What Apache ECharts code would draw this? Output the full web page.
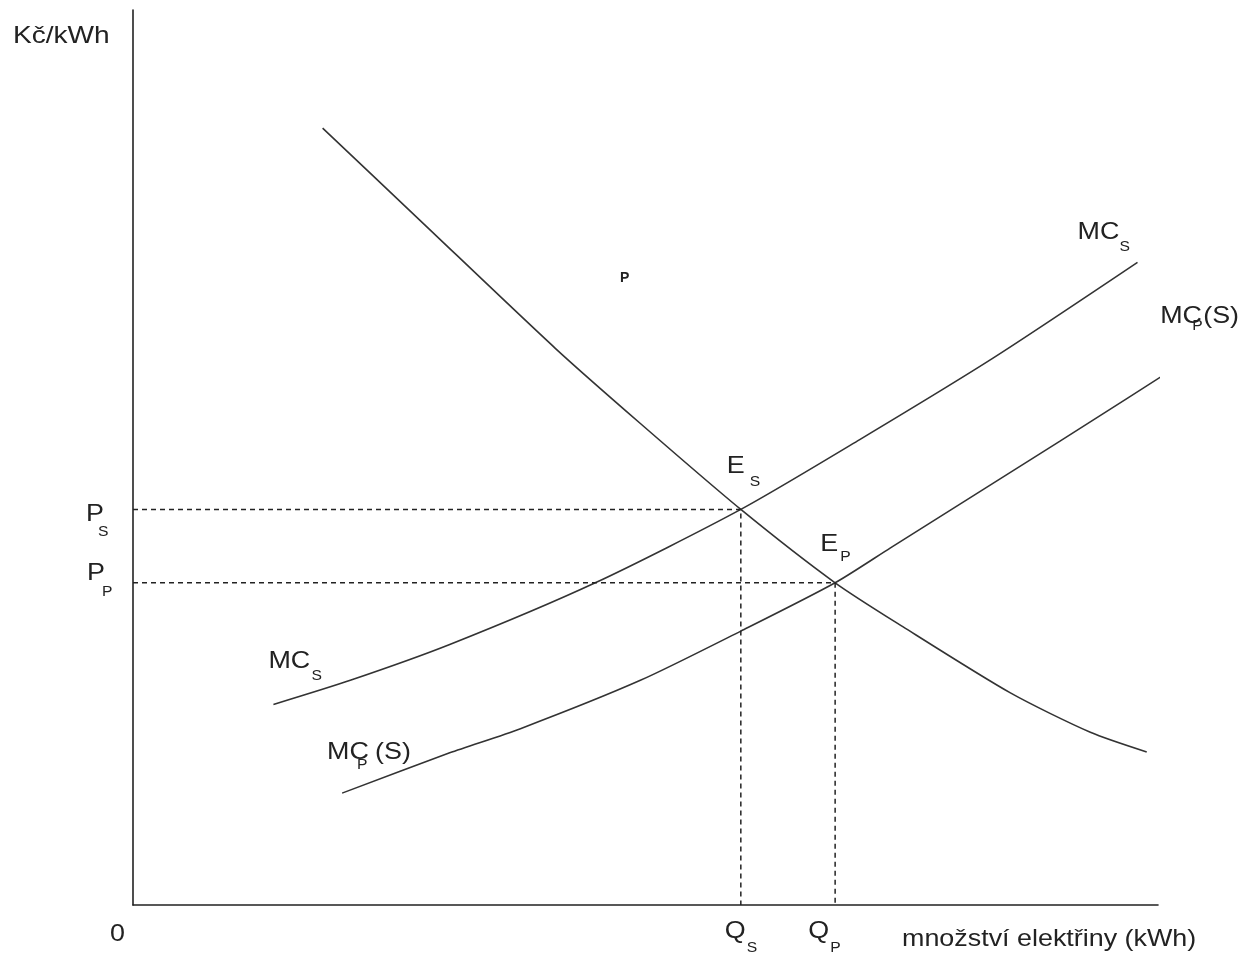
<!DOCTYPE html>
<html>
<head>
<meta charset="utf-8">
<script src="https://cdn.jsdelivr.net/npm/echarts@6/dist/echarts.min.js"></script>
<style>
html,body{margin:0;padding:0;background:#fff;}
#c{width:1250px;height:954px;}
</style>
</head>
<body>
<div id="c"></div>
<script>
// Demand curve
const demandX = [18.5, 28.0, 41.2, 49.5, 59.3, 68.5, 75.1, 85.6, 93.4, 98.9];
const demandY = [86.8, 76.5, 62.2, 53.8, 44.2, 36.0, 31.1, 23.7, 19.3, 17.1];
// MC_S curve
const mcsX = [13.7, 21.2, 30.9, 45.1, 59.3, 70.9, 83.9, 98.0];
const mcsY = [22.4, 25.1, 29.1, 36.0, 44.2, 52.0, 61.1, 71.8];
// MC_P(S) curve
const mcpX = [20.4, 30.9, 37.8, 49.5, 59.3, 68.5, 73.9, 90.4, 104.9];
const mcpY = [12.5, 17.0, 19.7, 25.1, 30.6, 36.0, 39.9, 51.8, 62.4];
// Equilibria
const eqS = [59.3, 44.2];
const eqP = [68.5, 36.0];

const zip = (xs, ys) => xs.map((x, i) => [x, ys[i]]);
const INK = '#222';
const CURVE = '#333';
const FONT = '"Liberation Sans", Arial, sans-serif';

const chart = echarts.init(document.getElementById('c'));
const curveStyle = { color: CURVE, width: 1.6 };
const dashStyle = { color: INK, width: 1.5, type: [5, 4] };

chart.setOption({
  animation: false,
  backgroundColor: '#fff',
  grid: { left: 133, right: 92, top: 10, bottom: 49 },
  xAxis: {
    type: 'value', min: 0, max: 100,
    axisLine: { show: true, lineStyle: { color: INK, width: 1.6 } },
    axisTick: { show: false }, axisLabel: { show: false }, splitLine: { show: false }
  },
  yAxis: {
    type: 'value', min: 0, max: 100,
    axisLine: { show: true, lineStyle: { color: INK, width: 1.6 } },
    axisTick: { show: false }, axisLabel: { show: false }, splitLine: { show: false }
  },
  series: [
    { type: 'line', data: zip(demandX, demandY), smooth: 0.25, symbol: 'none', clip: false, lineStyle: curveStyle },
    { type: 'line', data: zip(mcsX, mcsY), smooth: 0.25, symbol: 'none', clip: false, lineStyle: curveStyle },
    { type: 'line', data: zip(mcpX, mcpY), smooth: 0.25, symbol: 'none', clip: false, lineStyle: curveStyle },
    { type: 'line', data: [[0, eqS[1]], [eqS[0], eqS[1]], [eqS[0], 0]], symbol: 'none', lineStyle: dashStyle },
    { type: 'line', data: [[0, eqP[1]], [eqP[0], eqP[1]], [eqP[0], 0]], symbol: 'none', lineStyle: dashStyle }
  ]
});

const px = (p) => chart.convertToPixel({ gridIndex: 0 }, p);
const SX = 1.12;
function txt(text, x, y, size, opts) {
  opts = opts || {};
  return {
    type: 'text', x: x, y: y, scaleX: opts.scaleX || SX,
    style: {
      text: text, fill: INK,
      font: (opts.weight || 'normal') + ' ' + size + 'px ' + FONT,
      textAlign: opts.align || 'left', textVerticalAlign: 'middle'
    }
  };
}
const MAIN = 24, SUB = 14;
const g = [];
const o = px([0, 0]);
const es = px(eqS), ep = px(eqP);
const ps = px([0, eqS[1]]), pp = px([0, eqP[1]]);
const mcsEnd = px([mcsX[mcsX.length - 1], mcsY[mcsY.length - 1]]);
const mcsStart = px([mcsX[0], mcsY[0]]);
const mcpEnd = px([mcpX[mcpX.length - 1], mcpY[mcpY.length - 1]]);
const mcpStart = px([mcpX[0], mcpY[0]]);
const yTop = px([0, 100]);
const xEnd = px([100, 0]);

// axis titles
g.push(txt('Kč/kWh', o[0] - 120, yTop[1] + 26, MAIN, { scaleX: 1.17 }));
g.push(txt('0', o[0] - 23, o[1] + 29, MAIN));
g.push(txt('množství elektřiny (kWh)', xEnd[0] - 256, o[1] + 34, MAIN));
// price labels
g.push(txt('P', ps[0] - 47, ps[1] + 5, MAIN));
g.push(txt('S', ps[0] - 35, ps[1] + 23, SUB));
g.push(txt('P', pp[0] - 46, pp[1] - 9, MAIN));
g.push(txt('P', pp[0] - 31, pp[1] + 9, SUB));
// quantity labels
g.push(txt('Q', es[0] - 16, o[1] + 26, MAIN));
g.push(txt('S', es[0] + 6, o[1] + 43, SUB));
g.push(txt('Q', ep[0] - 27, o[1] + 26, MAIN));
g.push(txt('P', ep[0] - 5, o[1] + 43, SUB));
// equilibrium labels
g.push(txt('E', es[0] - 14, es[1] - 43, MAIN));
g.push(txt('S', es[0] + 9, es[1] - 27, SUB));
g.push(txt('E', ep[0] - 15, ep[1] - 38, MAIN));
g.push(txt('P', ep[0] + 5, ep[1] - 26, SUB));
// curve labels
g.push(txt('MC', mcsEnd[0] - 60, mcsEnd[1] - 30, MAIN));
g.push(txt('S', mcsEnd[0] - 18, mcsEnd[1] - 15, SUB));
g.push(txt('MC', mcsStart[0] - 5, mcsStart[1] - 43, MAIN));
g.push(txt('S', mcsStart[0] + 38, mcsStart[1] - 28, SUB));
g.push(txt('MC', mcpEnd[0] - 48, mcpEnd[1] - 30, MAIN));
g.push(txt('P', mcpEnd[0] - 16, mcpEnd[1] - 20, SUB));
g.push(txt('(S)', mcpEnd[0] - 5, mcpEnd[1] - 30, MAIN));
g.push(txt('MC', mcpStart[0] - 15, mcpStart[1] - 41, MAIN));
g.push(txt('P', mcpStart[0] + 15, mcpStart[1] - 28, SUB));
g.push(txt('(S)', mcpStart[0] + 33, mcpStart[1] - 41, MAIN));
// stray small P
const pm = px([47.5, 70]);
g.push(txt('P', pm[0], pm[1], 14, { weight: 'bold', scaleX: 1 }));

chart.setOption({ graphic: g });
</script>
</body>
</html>
